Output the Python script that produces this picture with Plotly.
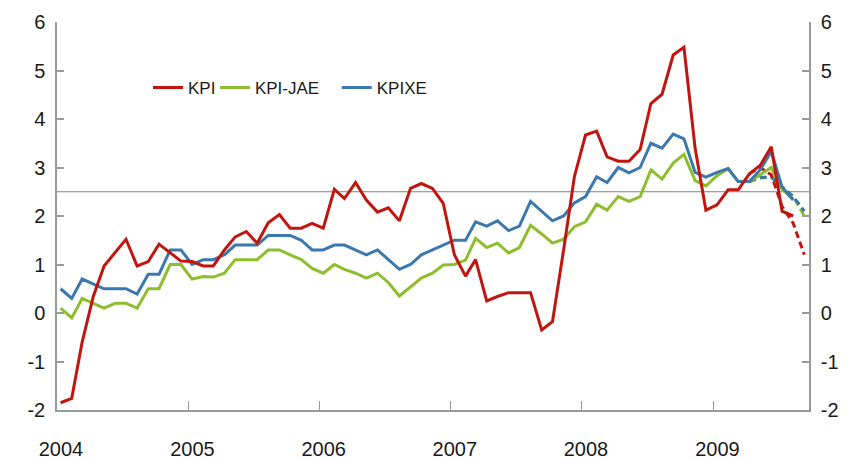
import pandas as pd
import plotly.graph_objects as go

# ---------------- data ----------------
months = pd.date_range("2004-01-01", "2009-08-01", freq="MS")
proj_months = pd.date_range("2009-04-01", "2009-09-01", freq="MS")
years = [2004, 2005, 2006, 2007, 2008, 2009]
y_ticks = [-2, -1, 0, 1, 2, 3, 4, 5, 6]
target = 2.5

kpi = [
    -1.85, -1.76, -0.60, 0.34, 0.97, 1.24, 1.52, 0.97, 1.06, 1.42, 1.24, 1.07,
    1.06, 0.97, 0.97, 1.30, 1.57, 1.68, 1.44, 1.86, 2.03, 1.75, 1.75, 1.85,
    1.75, 2.55, 2.36, 2.69, 2.33, 2.08, 2.17, 1.90, 2.57, 2.67, 2.57, 2.26,
    1.20, 0.76, 1.10, 0.25, 0.34, 0.42, 0.42, 0.42, -0.35, -0.18, 1.30, 2.81,
    3.67, 3.75, 3.22, 3.13, 3.13, 3.37, 4.32, 4.51, 5.32, 5.48, 3.40, 2.12,
    2.23, 2.54, 2.54, 2.87, 3.04, 3.43, 2.10, 2.00,
]
kpi_jae = [
    0.10, -0.10, 0.30, 0.20, 0.10, 0.20, 0.20, 0.10, 0.50, 0.50, 1.00, 1.00,
    0.70, 0.75, 0.74, 0.82, 1.10, 1.10, 1.10, 1.30, 1.30, 1.20, 1.10, 0.92,
    0.82, 1.00, 0.90, 0.82, 0.72, 0.82, 0.63, 0.35, 0.54, 0.72, 0.82, 0.99,
    1.00, 1.09, 1.54, 1.35, 1.44, 1.24, 1.35, 1.81, 1.63, 1.44, 1.52, 1.78,
    1.88, 2.24, 2.12, 2.40, 2.30, 2.40, 2.95, 2.76, 3.09, 3.27, 2.73, 2.62,
    2.83, 2.98, 2.71, 2.71, 2.85, 3.00, 2.55, 2.35,
]
kpixe = [
    0.50, 0.30, 0.70, 0.60, 0.50, 0.50, 0.50, 0.39, 0.80, 0.80, 1.30, 1.30,
    1.00, 1.10, 1.10, 1.20, 1.40, 1.40, 1.40, 1.60, 1.60, 1.60, 1.50, 1.30,
    1.30, 1.40, 1.40, 1.30, 1.20, 1.30, 1.10, 0.90, 1.00, 1.20, 1.30, 1.40,
    1.50, 1.50, 1.88, 1.79, 1.90, 1.70, 1.79, 2.30, 2.09, 1.90, 2.00, 2.27,
    2.40, 2.81, 2.69, 3.00, 2.89, 3.00, 3.50, 3.40, 3.69, 3.59, 2.90, 2.80,
    2.90, 2.98, 2.71, 2.71, 2.95, 3.33, 2.60, 2.33,
]
# projections (dashed)
kpi_proj = [2.87, 3.00, 2.85, 2.20, 1.85, 1.20]
kpi_jae_proj = [2.71, 2.78, 2.80, 2.60, 2.40, 2.00]
kpixe_proj = [2.71, 2.80, 2.80, 2.60, 2.40, 2.10]

# ---------------- style ----------------
RED = "#C0160F"
GREEN = "#8DBE2E"
BLUE = "#3A78AE"
AXIS = "#9a9a9a"
TXT = "#1a1a1a"
FONT = "Liberation Sans, Arial, sans-serif"

x = months + pd.Timedelta(days=10)
xp = proj_months + pd.Timedelta(days=10)

fig = go.Figure()

series = [
    ("KPI-JAE", kpi_jae, kpi_jae_proj, GREEN, "legend2"),
    ("KPIXE", kpixe, kpixe_proj, BLUE, "legend3"),
    ("KPI", kpi, kpi_proj, RED, "legend"),
]
for name, vals, proj, col, leg in series:
    fig.add_trace(go.Scatter(
        x=xp, y=proj, mode="lines", showlegend=False,
        line=dict(color=col, width=3, dash="7px,4px"), hoverinfo="skip",
    ))
for name, vals, proj, col, leg in series:
    fig.add_trace(go.Scatter(
        x=x, y=vals, mode="lines", name=name, legend=leg,
        line=dict(color=col, width=3),
    ))

# dummy trace so the right axis is drawn
fig.add_trace(go.Scatter(
    x=[x[0]], y=[None], yaxis="y2", showlegend=False, hoverinfo="skip",
))

fig.add_shape(type="line", xref="paper", x0=0, x1=1, yref="y",
              y0=target, y1=target, line=dict(color="#808080", width=1),
              layer="below")

yax = dict(
    range=[-2, 6], tickvals=y_ticks, ticktext=[str(v) for v in y_ticks],
    showgrid=False, zeroline=False, automargin=False,
    showline=True, linecolor=AXIS, linewidth=1.5,
    ticks="inside", ticklen=7, tickcolor=AXIS, tickwidth=1.5,
    tickfont=dict(family=FONT, size=20, color=TXT),
    ticklabelstandoff=6,
)

leg_common = dict(
    orientation="h", y=0.83, xanchor="left", yanchor="middle",
    font=dict(family=FONT, size=17, color=TXT),
    bgcolor="rgba(0,0,0,0)", itemwidth=30,
)

fig.update_layout(
    width=852, height=459,
    margin=dict(l=57, r=43, t=22, b=49, autoexpand=False),
    paper_bgcolor="white", plot_bgcolor="white",
    font=dict(family=FONT, color=TXT),
    xaxis=dict(
        type="date", range=["2004-01-01", "2009-09-24"],
        tickvals=[f"{y}-01-01" for y in years],
        ticktext=[str(y) for y in years],
        showgrid=False, zeroline=False, automargin=False,
        showline=True, linecolor=AXIS, linewidth=1.5,
        ticks="inside", ticklen=9, tickcolor=AXIS, tickwidth=1,
        tickfont=dict(family=FONT, size=20, color=TXT),
        ticklabelstandoff=20, ticklabelshift=4,
    ),
    yaxis=yax,
    yaxis2=dict(yax, overlaying="y", side="right"),
    legend=dict(leg_common, x=0.121),
    legend2=dict(leg_common, x=0.21),
    legend3=dict(leg_common, x=0.372),
    showlegend=True,
)

fig.write_html(
    "out.html",
    config={"displayModeBar": False},
    post_script="document.body.style.margin='0';document.body.style.overflow='hidden';",
)
